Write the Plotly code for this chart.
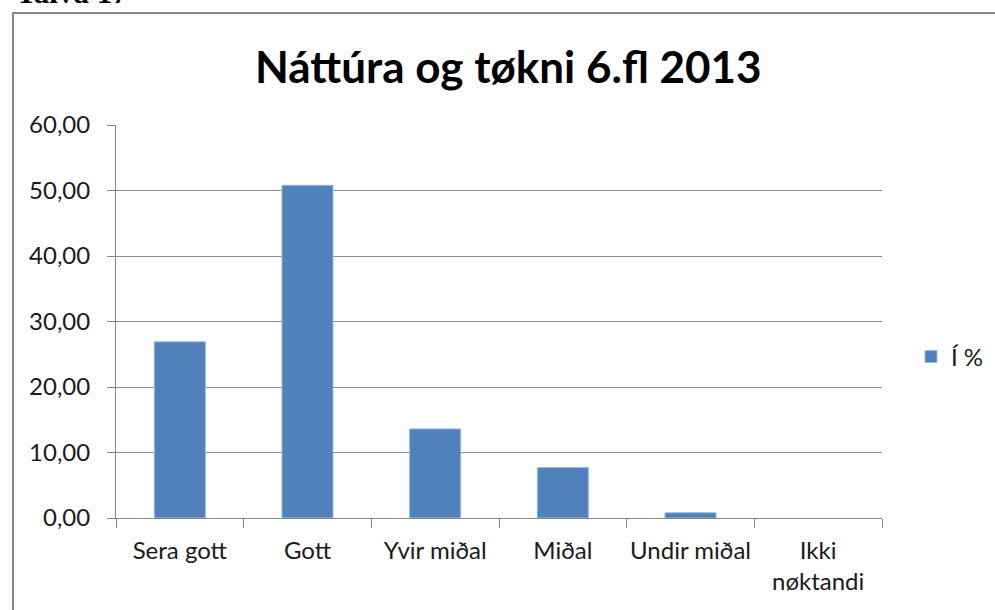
import plotly.graph_objects as go

categories = ["Sera gott", "Gott", "Yvir miðal", "Miðal", "Undir miðal", "Ikki<br>nøktandi"]
values = [26.9, 50.8, 13.6, 7.7, 0.8, 0.0]
series_name = "Í %"
title_text = "Náttúra og tøkni 6.fl 2013"
caption_text = "Talva 17"

W, H = 995, 610
L, R, T, B = 116, 113, 125, 92
pw, ph = W - L - R, H - T - B

def px(x):
    return (x - L) / pw

def py(y):
    return (H - B - y) / ph

outline_widths = [1 if v > 0 else 0 for v in values]

fig = go.Figure()
fig.add_trace(go.Bar(
    x=categories, y=values, name=series_name,
    marker=dict(color="#4F81BD", line=dict(color="#9DB9DE", width=outline_widths)),
    showlegend=True,
))

fig.update_layout(
    width=W, height=H,
    margin=dict(l=L, r=R, t=T, b=B, autoexpand=False),
    paper_bgcolor="white", plot_bgcolor="white",
    separators=",.",
    bargap=0.6,
    font=dict(family="Lato", size=24, color="#1a1a1a"),
    showlegend=True,
    legend=dict(x=px(911), y=py(357), xanchor="left", yanchor="middle",
                font=dict(size=24, color="#1a1a1a"), bgcolor="rgba(0,0,0,0)",
                itemwidth=30),
    xaxis=dict(
        type="category", tickson="boundaries", ticks="outside", ticklen=9,
        tickcolor="#868686", showline=True, linecolor="#868686", linewidth=1,
        showgrid=False, tickangle=0, tickfont=dict(size=24, color="#1a1a1a"),
        ticklabelstandoff=11,
    ),
    yaxis=dict(
        range=[0, 60], dtick=10, tick0=0, tickformat=".2f",
        ticks="outside", ticklen=8, tickcolor="#868686",
        showline=True, linecolor="#868686", linewidth=1,
        showgrid=True, gridcolor="#8c8c8c", gridwidth=1,
        zeroline=False, tickfont=dict(size=24, color="#1a1a1a"),
        ticklabelstandoff=12,
    ),
    shapes=[dict(
        type="rect", xref="paper", yref="paper",
        x0=px(13), x1=px(1005), y0=py(625), y1=py(13),
        line=dict(color="#868686", width=2), fillcolor="rgba(0,0,0,0)",
        layer="below",
    )],
    annotations=[
        dict(text="<b>" + title_text + "</b>", xref="paper", yref="paper",
             x=px(508), y=py(66), xanchor="center", yanchor="middle",
             showarrow=False, font=dict(family="Lato", size=44, color="#000000")),
        dict(text="<b>" + caption_text + "</b>", xref="paper", yref="paper",
             x=px(14), y=py(12), xanchor="left", yanchor="bottom",
             showarrow=False, font=dict(family="Liberation Serif", size=31, color="#000000")),
    ],
)

fig.write_html("out.html", config={"displayModeBar": False},
               post_script="document.body.style.margin='0';")
